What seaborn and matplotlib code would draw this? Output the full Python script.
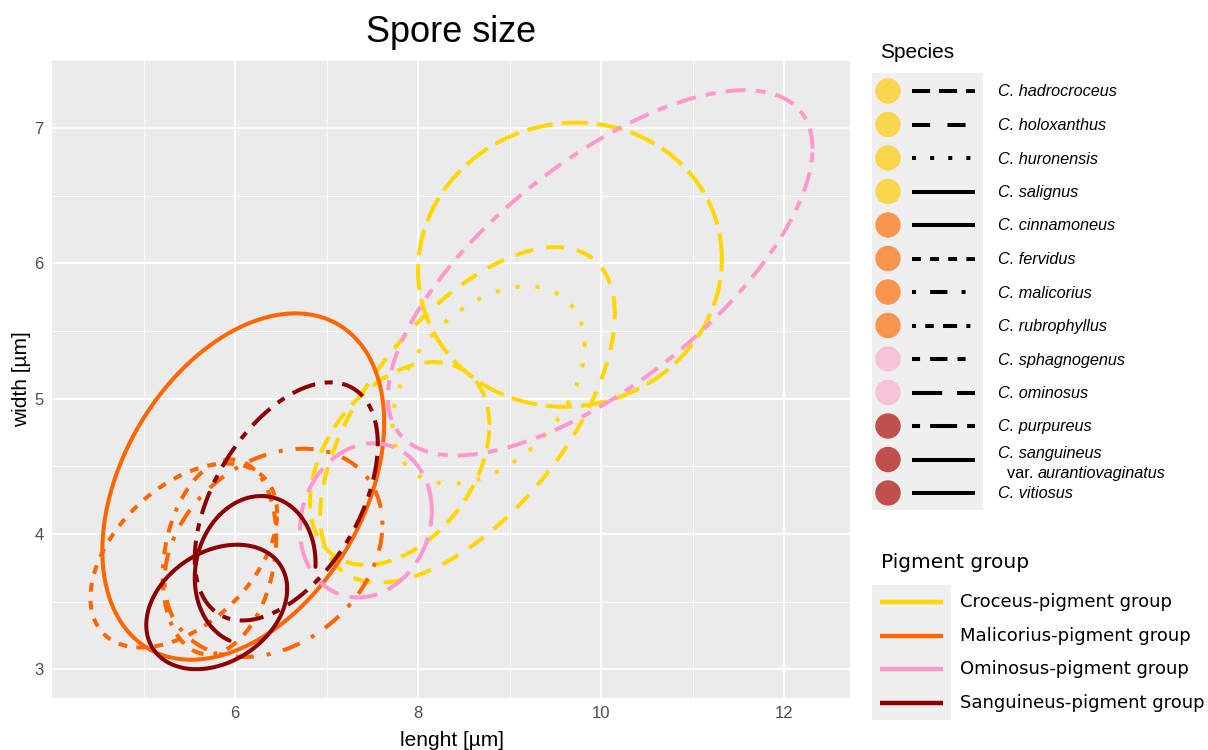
import numpy as np
import pandas as pd
import seaborn as sns
import matplotlib.pyplot as plt
from matplotlib.patches import Circle, Rectangle
from matplotlib.lines import Line2D

# species, pigment group and ellipse parameters
species = ["C. hadrocroceus", "C. holoxanthus", "C. huronensis", "C. salignus",
           "C. cinnamoneus", "C. fervidus", "C. malicorius", "C. rubrophyllus",
           "C. sphagnogenus", "C. ominosus", "C. purpureus",
           "C. sanguineus var. aurantiovaginatus", "C. vitiosus"]
group = ["Croceus", "Croceus", "Croceus", "Croceus",
         "Malicorius", "Malicorius", "Malicorius", "Malicorius",
         "Ominosus", "Ominosus",
         "Sanguineus", "Sanguineus", "Sanguineus"]
centre_len = [8.54, 9.66, 8.77, 7.80, 6.09, 5.44, 6.42, 5.83, 9.99, 7.43, 6.56, 6.22, 5.80]
centre_wid = [4.88, 5.99, 5.10, 4.52, 4.35, 3.84, 3.86, 3.83, 5.93, 4.10, 4.24, 3.73, 3.46]
half_len = [1.61, 1.66, 1.05, 0.98, 1.54, 1.02, 1.19, 0.62, 2.32, 0.72, 1.00, 0.66, 0.77]
half_wid = [1.24, 1.05, 0.73, 0.75, 1.28, 0.68, 0.77, 0.72, 1.35, 0.57, 0.88, 0.55, 0.46]
corr = [0.60, 0.04, 0.40, 0.38, 0.37, 0.46, 0.27, 0.20, 0.68, 0.12, 0.48, 0.10, 0.29]
arc_start = [0, 0, 0, 0, 0, 0, 0, 0, 0, 0, 0, -3, 0]
arc_end = [360, 360, 360, 360, 360, 360, 360, 360, 360, 360, 360, 245, 360]

group_names = ["Croceus", "Malicorius", "Ominosus", "Sanguineus"]
group_labels = ["Croceus-pigment group", "Malicorius-pigment group",
                "Ominosus-pigment group", "Sanguineus-pigment group"]

# styles
group_colors = {"Croceus": "#FFD700", "Malicorius": "#FF6600",
                "Ominosus": "#FF99CC", "Sanguineus": "#8B0000"}
key_fill = {"Croceus": "#F8D64E", "Malicorius": "#F8964F",
            "Ominosus": "#F7C3D9", "Sanguineus": "#C0504D"}
plot_dashes = [(4.5, 3.2), (6.5, 2.2), (1, 4), (4.5, 2.6),
               "", (2.2, 2.3), (1, 3.2, 4.5, 3.2), (1, 2.5, 3, 2.5, 3, 2.5),
               (5, 2.5, 2.5, 2.5), (7, 2.8), (6, 2.4, 2, 2.4), "", ""]
key_dashes = [(4.5, 2.2), (4.5, 4.3), (1, 3.5), "",
              "", (2.2, 2.3), (1, 3.5, 4.3, 3.5), (1, 2.3, 2.1, 2.3, 3.5, 2.3),
              (2, 2.5, 4.3, 2.5), (7.5, 3.7), (2, 2.5, 6.7, 2.5), "", ""]


def ellipse_points(cx, cy, sx, sy, r, t0, t1):
    t = np.radians(np.linspace(t0, t1, 240))
    x = cx + sx * np.cos(t)
    y = cy + sy * (r * np.cos(t) + np.sqrt(1 - r ** 2) * np.sin(t))
    return x, y


frames = []
for i, sp in enumerate(species):
    ex, ey = ellipse_points(centre_len[i], centre_wid[i], half_len[i], half_wid[i],
                            corr[i], arc_start[i], arc_end[i])
    frames.append(pd.DataFrame({"lenght": ex, "width": ey, "species": sp, "group": group[i]}))
df = pd.concat(frames, ignore_index=True)

sns.set_theme(style="darkgrid", rc={"axes.facecolor": "#EBEBEB", "grid.color": "white",
                                    "text.color": "black"})
plt.rcParams["font.family"] = ["Liberation Sans", "DejaVu Sans"]
narrow = ["Liberation Sans Narrow", "Liberation Sans"]

W, H = 1208, 750
fig = plt.figure(figsize=(W / 100, H / 100), dpi=100)
fig.patch.set_facecolor("white")
ax = fig.add_axes([52 / W, 52 / H, 798 / W, 638 / H])

sns.lineplot(data=df, x="lenght", y="width", hue="group", style="species",
             palette=group_colors, dashes=dict(zip(species, plot_dashes)),
             sort=False, estimator=None, linewidth=2.9, legend=False, ax=ax)

ax.set_xlim(4.0, 12.72)
ax.set_ylim(2.787, 7.503)
ax.set_xticks([6, 8, 10, 12])
ax.set_xticks([5, 7, 9, 11], minor=True)
ax.set_yticks([3, 4, 5, 6, 7])
ax.set_yticks([3.5, 4.5, 5.5, 6.5, 7.5], minor=True)
ax.grid(which="major", color="white", linewidth=1.3)
ax.grid(which="minor", color="white", linewidth=0.6)
ax.tick_params(which="major", length=4, width=1.1, color="#333333",
               labelsize=12, labelcolor="#4D4D4D", pad=2)
ax.tick_params(which="minor", length=0)
for lab in ax.get_xticklabels() + ax.get_yticklabels():
    lab.set_fontfamily(narrow)
for s in ax.spines.values():
    s.set_visible(False)
ax.set_xlabel("")
ax.set_ylabel("")

fig.text(451 / W, 1 - 33 / H, "Spore size", fontsize=26, ha="center", va="center",
         color="black")
fig.text(452 / W, 1 - 740 / H, "lenght [µm]", fontsize=15, ha="center", va="center",
         family=narrow, color="black")
fig.text(22 / W, 1 - 379 / H, "width [µm]", fontsize=15, ha="center", va="center",
         rotation=90, family=narrow, color="black")

# legends drawn in pixel space
lg = fig.add_axes([0, 0, 1, 1])
lg.set_xlim(0, W)
lg.set_ylim(H, 0)
lg.axis("off")

lg.text(880, 53, "Species", fontsize=15, va="center", ha="left", color="black")
lg.add_patch(Rectangle((872, 73), 111, 437, color="#EFEFEF", lw=0))
renderer = fig.canvas.get_renderer()
for i, sp in enumerate(species):
    yy = 91 + i * 33.5
    lg.add_patch(Circle((888, yy), 12.7, color=key_fill[group[i]], lw=0))
    ln = Line2D([912, 975], [yy, yy], color="black", lw=2.9, solid_capstyle="butt",
                dash_capstyle="butt")
    if key_dashes[i]:
        ln.set_dashes(key_dashes[i])
    lg.add_line(ln)
    if "var." in sp:
        first, rest = sp.split(" var. ")
        lg.text(998, yy - 6, first, fontsize=11.7, style="italic", va="center", color="black")
        t = lg.text(1007, yy + 14, "var. ", fontsize=11.7, va="center", color="black")
        bb = t.get_window_extent(renderer)
        lg.text(1007 + bb.width, yy + 14, rest, fontsize=11.7, style="italic",
                va="center", color="black")
    else:
        lg.text(998, yy + 1, sp, fontsize=11.7, style="italic", va="center", color="black")

lg.text(881, 562, "Pigment group", fontsize=14.5, va="center", ha="left",
        family="DejaVu Sans", color="black")
lg.add_patch(Rectangle((872, 585), 79, 135, color="#EFEFEF", lw=0))
for j, g in enumerate(group_names):
    yy = 602 + j * 33.7
    lg.add_line(Line2D([880, 943], [yy, yy], color=group_colors[g], lw=3.2,
                       solid_capstyle="butt"))
    lg.text(960, yy, group_labels[j], fontsize=13, va="center", ha="left",
            family="DejaVu Sans", color="black")

fig.savefig("out.png", dpi=100)
